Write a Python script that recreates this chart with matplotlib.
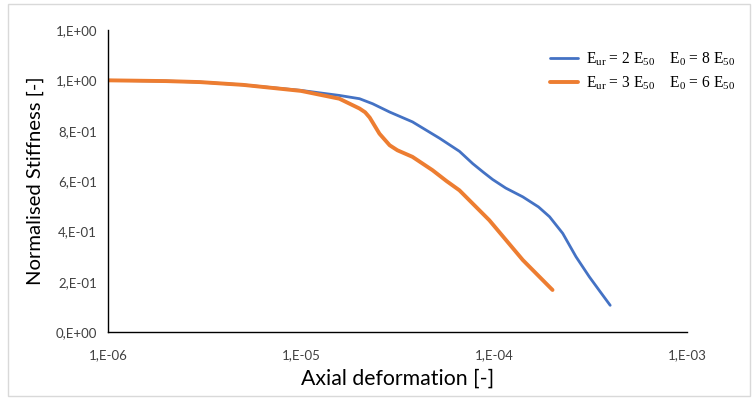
import matplotlib
matplotlib.use("Agg")
import matplotlib.pyplot as plt
from matplotlib.patches import Rectangle

# Data
x_blue = [1e-6, 2e-6, 3e-6, 5e-6, 1e-5, 1.58e-5, 2.01e-5, 2.35e-5, 2.88e-5, 3.78e-5,
          5.22e-5, 6.62e-5, 7.76e-5, 8.8e-5, 9.84e-5, 1.15e-4, 1.41e-4, 1.7e-4,
          1.94e-4, 2.27e-4, 2.66e-4, 3.12e-4, 3.55e-4, 4.0e-4]
y_blue = [1.0, 0.997, 0.993, 0.982, 0.960, 0.940, 0.927, 0.907, 0.874, 0.835,
          0.770, 0.718, 0.669, 0.635, 0.606, 0.572, 0.537, 0.497,
          0.458, 0.392, 0.299, 0.219, 0.160, 0.106]

x_orange = [1e-6, 2e-6, 3e-6, 5e-6, 1e-5, 1.58e-5, 2.01e-5, 2.15e-5, 2.27e-5, 2.55e-5,
            2.88e-5, 3.16e-5, 3.78e-5, 4.8e-5, 5.67e-5, 6.62e-5, 9.46e-5, 1.41e-4, 2.01e-4]
y_orange = [1.0, 0.997, 0.993, 0.982, 0.958, 0.927, 0.888, 0.873, 0.852, 0.788,
            0.742, 0.722, 0.696, 0.643, 0.600, 0.563, 0.444, 0.286, 0.167]

labels = [r"E$_{\mathrm{ur}}$ = 2 E$_{\mathrm{50}}$    E$_{\mathrm{0}}$ = 8 E$_{\mathrm{50}}$",
          r"E$_{\mathrm{ur}}$ = 3 E$_{\mathrm{50}}$    E$_{\mathrm{0}}$ = 6 E$_{\mathrm{50}}$"]

y_ticks = [0.0, 0.2, 0.4, 0.6, 0.8, 1.0, 1.2]
y_tick_labels = ["0,E+00", "2,E-01", "4,E-01", "6,E-01", "8,E-01", "1,E+00", "1,E+00"]
x_ticks = [1e-6, 1e-5, 1e-4, 1e-3]
x_tick_labels = ["1,E-06", "1,E-05", "1,E-04", "1,E-03"]

plt.rcParams['mathtext.fontset'] = 'custom'
plt.rcParams['mathtext.rm'] = 'Liberation Serif'
plt.rcParams['mathtext.it'] = 'Liberation Serif:italic'

fig = plt.figure(figsize=(7.53, 3.99), dpi=100)
fig.patches.append(Rectangle((0.011, 0.007), 0.985, 0.983, transform=fig.transFigure,
                             fill=False, edgecolor='#d9d9d9', linewidth=1.0))
ax = fig.add_axes([108/753, 1 - 332/399, (687 - 108)/753, (332 - 30)/399])

ax.plot(x_blue, y_blue, color='#4472C4', lw=2.0, label=labels[0], solid_capstyle='round',
        solid_joinstyle='round')
ax.plot(x_orange, y_orange, color='#ED7D31', lw=2.8, label=labels[1], solid_capstyle='round',
        solid_joinstyle='round')

ax.set_xscale('log')
ax.set_xlim(1e-6, 1e-3)
ax.set_ylim(0, 1.2)
ax.set_xticks(x_ticks)
ax.set_xticklabels(x_tick_labels)
ax.minorticks_off()
ax.set_yticks(y_ticks)
ax.set_yticklabels(y_tick_labels)
ax.tick_params(length=0, labelsize=9.5, colors='#404040', pad=8)
ax.tick_params(axis='x', pad=12)
for lbl in ax.get_xticklabels() + ax.get_yticklabels():
    lbl.set_family('Lato')
    lbl.set_color('#404040')

for s in ['top', 'right']:
    ax.spines[s].set_visible(False)
for s in ['left', 'bottom']:
    ax.spines[s].set_color('#000000')
    ax.spines[s].set_linewidth(1.0)

ax.set_xlabel("Axial deformation [-]", fontsize=15.3, family='Lato', color='#000000', labelpad=6)
ax.set_ylabel("Normalised Stiffness [-]", fontsize=14.6, family='Lato', color='#000000', labelpad=8)

leg = ax.legend(loc='upper left', bbox_to_anchor=(0.763, 0.932), frameon=False,
                prop={'family': 'Liberation Serif', 'size': 11.2},
                handlelength=1.8, handletextpad=0.5, labelspacing=0.45,
                borderpad=0, borderaxespad=0)

fig.savefig("out.png", dpi=100)
